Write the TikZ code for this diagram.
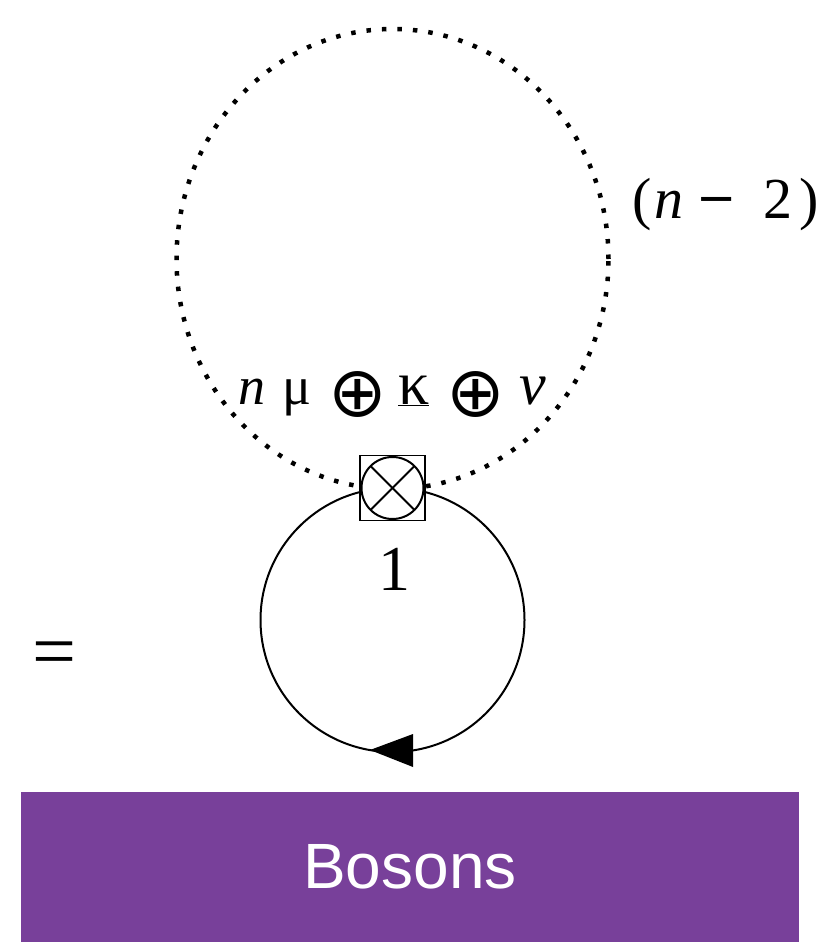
\documentclass[tikz,border=0pt]{standalone}
\usepackage{fontspec}
\setmainfont{Liberation Serif}
\setsansfont{Liberation Sans}
\newfontfamily\symfnt{DejaVu Sans}
\usetikzlibrary{arrows.meta}
\definecolor{bosonpurple}{RGB}{120,64,154}
\newcommand{\opl}{\raisebox{-12pt}{\symfnt\fontsize{70}{70}\selectfont ⊕}}
\begin{document}
\begin{tikzpicture}[x=1pt,y=-1pt,
  lbl/.style={inner sep=0pt, font=\fontsize{55}{60}\selectfont},
  dotloop/.style={line width=4.5pt, dash pattern=on 4.5pt off 11pt},
  solidloop/.style={line width=2pt},
  vertexbox/.style={draw, fill=white, line width=1.8pt, minimum size=65pt, inner sep=0pt}]
\useasboundingbox (0,0) rectangle (820,942);
% Bosons bar
\node[fill=bosonpurple, minimum width=778pt, minimum height=150pt, inner sep=0pt,
      text=white, font=\sffamily\fontsize{64}{70}\selectfont] (bosons) at (410,867) {Bosons};
% dotted loop
\draw[dotloop] (392.5,259) ellipse [x radius=216pt, y radius=230pt];
% solid loop
\coordinate (lc) at (392.5,620);
\draw[solidloop] (lc) circle [radius=132pt];
\fill (370,750) -- (413,734) -- (413,767) -- cycle;
% vertex
\node[vertexbox] (vertex) at (392.5,488) {};
\draw[line width=2pt] (vertex.center) circle [radius=31pt];
\draw[line width=2pt] (vertex.center) ++(45:31pt) -- ++(225:62pt);
\draw[line width=2pt] (vertex.center) ++(135:31pt) -- ++(-45:62pt);
% labels
\node[lbl, anchor=base west, font=\fontsize{54}{60}\selectfont] (irrep) at (238,404)
  {\makebox[44pt][l]{\textit{n}}\makebox[46pt][l]{μ}\makebox[70pt][l]{\opl}\makebox[48pt][l]{\fontsize{62}{62}\selectfont\underline{κ}}\makebox[73pt][l]{\opl}{\fontsize{60}{60}\selectfont\textit{ν}}};
\node[lbl, anchor=base west, font=\fontsize{58}{60}\selectfont] (count) at (632,218)
  {\makebox[22pt][l]{(}\makebox[42pt][l]{\textit{n}}\makebox[67pt][l]{\raisebox{4pt}{\symfnt\fontsize{48}{48}\selectfont −}}\makebox[36pt][l]{2})};
\node[lbl, anchor=base, font=\fontsize{64}{70}\selectfont] (one) at (394,590) {1};
\node[lbl, font=\fontsize{78}{80}\selectfont] (eq) at (54,660) {=};
\end{tikzpicture}
\end{document}
